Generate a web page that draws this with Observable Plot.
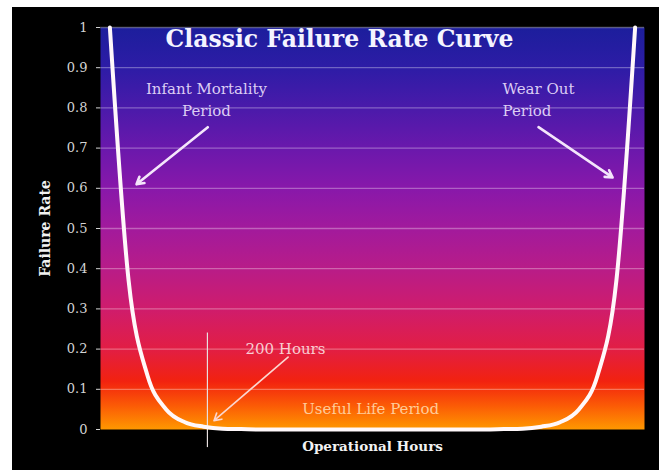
<!DOCTYPE html>
<html><head><meta charset="utf-8">
<script src="https://cdn.jsdelivr.net/npm/d3@7"></script>
<script src="https://cdn.jsdelivr.net/npm/@observablehq/plot@0.6"></script>
<style>
html,body{margin:0;padding:0;background:#fff;width:659px;height:470px;overflow:hidden;}
#chart{position:absolute;left:12px;top:7px;}
</style></head><body><div id="chart"></div>
<script>
// ---- data ----
const title = "Classic Failure Rate Curve";
const xLabel = "Operational Hours";
const yLabel = "Failure Rate";
const periods = [0,1,2,3,4,5,6,7,8,9,10,11,12,13,14,15,16,17,18,19,20,21,22,23,24,25,26,27,28];
const failureRate = [1, 0.37, 0.135, 0.05, 0.018, 0.007, 0.002, 0.001, 0, 0, 0, 0, 0, 0, 0, 0, 0, 0, 0, 0, 0, 0.001, 0.002, 0.007, 0.018, 0.05, 0.135, 0.37, 1];
const yTicks = [0, 0.1, 0.2, 0.3, 0.4, 0.5, 0.6, 0.7, 0.8, 0.9, 1];
const yTickLabels = ["0", "0.1", "0.2", "0.3", "0.4", "0.5", "0.6", "0.7", "0.8", "0.9", "1"];

// annotations (data units)
const noteText = ["Infant Mortality\nPeriod", "Wear Out\nPeriod", "200 Hours", "Useful Life Period"];
const noteX = [5.15, 20.93, 9.36, 13.9];
const noteY = [0.825, 0.825, 0.206, 0.055];
const arrowX1 = [5.22, 22.85, 9.5];
const arrowY1 = [0.752, 0.752, 0.18];
const arrowX2 = [1.42, 26.8, 5.55];
const arrowY2 = [0.61, 0.627, 0.022];
const hourMarkerX = 5.2;
const hourMarkerY = [-0.045, 0.24];

// ---- styles ----
const serif = "'DejaVu Serif', serif";
const noteColors = ["#dccdf4", "#dccdf4", "#f9cdd2", "#ffcc9a"];
const noteAnchors = ["middle", "start", "middle", "middle"];
const arrowColors = ["#f4e6fb", "#f4e6fb", "#fbd6d0"];
const arrowWidths = [2.6, 2.6, 1.6];

const notes = noteText.map((t, i) => ({t, x: noteX[i], y: noteY[i], c: noteColors[i], a: noteAnchors[i]}));
const arrows = arrowX1.map((x1, i) => ({x1, y1: arrowY1[i], x2: arrowX2[i], y2: arrowY2[i], c: arrowColors[i], w: arrowWidths[i]}));
const curve = periods.map((p, i) => ({p, v: failureRate[i]}));
const noteMark = (anchor) => Plot.text(notes.filter(d => d.a === anchor), {x: "x", y: "y", text: "t", fill: d => d.c, textAnchor: anchor, fontSize: 15, lineHeight: 1.45, fontFamily: serif});

const chart = Plot.plot({
  width: 647,
  height: 463,
  marginLeft: 88,
  marginRight: 15,
  marginTop: 20,
  marginBottom: 41,
  style: {background: "#000", color: "#d4d4d4", fontFamily: serif, fontSize: "13px", overflow: "visible"},
  x: {domain: [-0.5, 28.5], axis: null},
  y: {domain: [0, 1], ticks: yTicks, tickFormat: (d) => yTickLabels[yTicks.indexOf(d)], tickSize: 4, tickPadding: 9, label: null},
  marks: [
    Plot.frame({fill: "url(#bggrad)", stroke: null}),
    Plot.ruleY(yTicks.slice(1), {stroke: "#ffffff", strokeOpacity: 0.32, strokeWidth: 1.3}),
    Plot.ruleX([hourMarkerX], {x: d => d, y1: hourMarkerY[0], y2: hourMarkerY[1], stroke: "#e8e0e0", strokeWidth: 1.2}),
    Plot.line(curve, {x: "p", y: "v", stroke: "#fff8fa", strokeWidth: 4, curve: "monotone-x"}),
    Plot.arrow(arrows, {x1: "x1", y1: "y1", x2: "x2", y2: "y2", stroke: d => d.c, strokeWidth: d => d.w, headLength: 12, bend: 0}),
    noteMark("middle"),
    noteMark("start"),
    Plot.text([title], {text: d => d, frameAnchor: "top", dx: -33, dy: 12, lineAnchor: "middle", fill: "#f4f4ff", fontSize: 23.5, fontWeight: "bold", fontFamily: serif}),
    Plot.text([xLabel], {text: d => d, frameAnchor: "bottom", dy: 17, lineAnchor: "middle", fill: "#f2f2f2", fontSize: 13.5, fontWeight: "bold", fontFamily: serif}),
    Plot.text([yLabel], {text: d => d, frameAnchor: "left", dx: -55, rotate: -90, textAnchor: "middle", lineAnchor: "middle", fill: "#f2f2f2", fontSize: 14, fontWeight: "bold", fontFamily: serif})
  ]
});

// gradient definition for the plot background
const ns = "http://www.w3.org/2000/svg";
const defs = document.createElementNS(ns, "defs");
const grad = document.createElementNS(ns, "linearGradient");
grad.setAttribute("id", "bggrad");
grad.setAttribute("x1", "0"); grad.setAttribute("y1", "0");
grad.setAttribute("x2", "0"); grad.setAttribute("y2", "1");
const stops = [[0, "#1c1e9c"], [0.1, "#2d1ca6"], [0.2, "#4a1aaa"], [0.3, "#6a18ac"], [0.4, "#8818aa"], [0.5, "#a21a9c"], [0.6, "#b81c88"], [0.7, "#cf1c6c"], [0.8, "#e21e44"], [0.88, "#f2220f"], [0.94, "#fb5a06"], [1, "#ff9800"]];
for (const [o, c] of stops) {
  const s = document.createElementNS(ns, "stop");
  s.setAttribute("offset", o); s.setAttribute("stop-color", c);
  grad.appendChild(s);
}
defs.appendChild(grad);
chart.insertBefore(defs, chart.firstChild);
document.getElementById("chart").appendChild(chart);
</script>
</body></html>
